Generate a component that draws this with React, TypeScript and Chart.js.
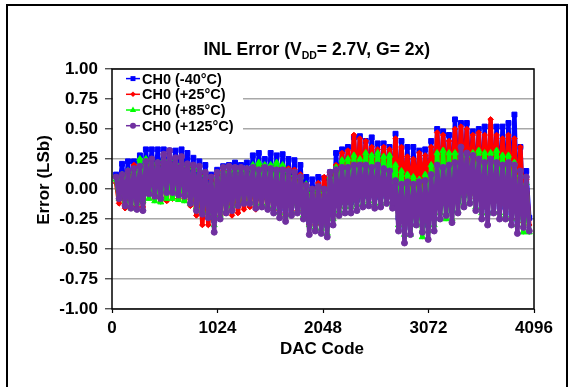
import React, { useEffect, useRef } from 'react';
import { Chart, registerables } from 'chart.js';

Chart.register(...registerables);

const FONT = '"Liberation Sans", Arial, Helvetica, sans-serif';

const chartTitleMain = 'INL Error (V';
const chartTitleSub = 'DD';
const chartTitleRest = '= 2.7V, G= 2x)';
const xAxisTitle = 'DAC Code';
const yAxisTitle = 'Error (LSb)';

const xTickValues = [0, 1024, 2048, 3072, 4096];
const yTickValues = [-1, -0.75, -0.5, -0.25, 0, 0.25, 0.5, 0.75, 1];

const seriesNames = ['CH0 (-40°C)', 'CH0 (+25°C)', 'CH0 (+85°C)', 'CH0 (+125°C)'];
const seriesColors = ['#0000FF', '#FF0000', '#00FF00', '#7030A0'];

// DAC codes at which the high / low excursions were read
const codes = [
  40, 98, 155, 213, 271, 329, 386, 444, 502, 559,
  617, 675, 732, 790, 848, 906, 963, 1021, 1079, 1136,
  1194, 1252, 1309, 1367, 1425, 1483, 1540, 1598, 1656, 1713,
  1771, 1829, 1886, 1944, 2002, 2060, 2117, 2175, 2233, 2290,
  2348, 2406, 2463, 2521, 2579, 2637, 2694, 2752, 2810, 2867,
  2925, 2983, 3040, 3098, 3156, 3214, 3271, 3329, 3387, 3444,
  3502, 3560, 3617, 3675, 3733, 3791, 3848, 3906, 3964, 4021,
];
const lowCodeOffset = 29;

const blueHigh = [
  0.12, 0.21, 0.23, 0.23, 0.28, 0.33, 0.33, 0.33, 0.33, 0.32,
  0.32, 0.33, 0.30, 0.26, 0.23, 0.20, 0.12, 0.16, 0.19, 0.20,
  0.22, 0.20, 0.22, 0.28, 0.30, 0.25, 0.30, 0.28, 0.29, 0.25,
  0.24, 0.20, 0.10, 0.08, 0.10, 0.09, 0.14, 0.30, 0.33, 0.35,
  0.43, 0.44, 0.40, 0.43, 0.38, 0.38, 0.35, 0.46, 0.40, 0.35,
  0.35, 0.32, 0.33, 0.40, 0.50, 0.48, 0.45, 0.58, 0.55, 0.55,
  0.48, 0.50, 0.52, 0.52, 0.52, 0.52, 0.55, 0.62, 0.35, 0.15,
];
const blueLow = [
  0.00, -0.06, -0.08, -0.09, -0.10, 0.04, 0.02, 0.00, 0.05, 0.05,
  0.03, 0.02, -0.04, -0.10, -0.13, -0.16, -0.26, -0.17, -0.12, -0.10,
  -0.06, -0.04, -0.04, -0.08, -0.07, -0.09, -0.12, -0.16, -0.19, -0.14,
  -0.12, -0.17, -0.28, -0.26, -0.28, -0.30, -0.20, -0.13, -0.11, -0.11,
  -0.09, -0.06, -0.05, -0.07, -0.06, -0.04, -0.07, -0.24, -0.32, -0.27,
  -0.20, -0.24, -0.30, -0.24, -0.14, -0.12, -0.18, -0.10, -0.05, -0.02,
  -0.08, -0.15, -0.20, -0.10, -0.15, -0.15, -0.20, -0.26, -0.22, -0.24,
];
const redHigh = [
  0.05, 0.10, 0.12, 0.20, 0.18, 0.20, 0.20, 0.20, 0.22, 0.22,
  0.20, 0.20, 0.18, 0.16, 0.15, 0.12, 0.08, 0.12, 0.15, 0.15,
  0.15, 0.15, 0.16, 0.18, 0.20, 0.18, 0.19, 0.19, 0.18, 0.17,
  0.16, 0.12, 0.04, 0.00, 0.05, 0.10, 0.12, 0.20, 0.30, 0.32,
  0.45, 0.42, 0.40, 0.35, 0.33, 0.35, 0.33, 0.42, 0.35, 0.27,
  0.25, 0.30, 0.28, 0.35, 0.47, 0.45, 0.40, 0.50, 0.52, 0.50,
  0.45, 0.47, 0.45, 0.58, 0.45, 0.42, 0.45, 0.42, 0.35, 0.08,
];
const redLow = [
  -0.12, -0.16, -0.14, -0.15, -0.15, -0.05, -0.08, -0.10, -0.10, -0.08,
  -0.08, -0.09, -0.14, -0.22, -0.30, -0.30, -0.26, -0.22, -0.20, -0.22,
  -0.20, -0.17, -0.15, -0.17, -0.15, -0.16, -0.18, -0.20, -0.22, -0.20,
  -0.18, -0.20, -0.30, -0.30, -0.30, -0.30, -0.22, -0.15, -0.12, -0.10,
  -0.05, -0.05, -0.05, -0.05, -0.05, -0.05, -0.08, -0.15, -0.05, -0.03,
  -0.02, -0.03, -0.03, -0.05, -0.05, -0.05, -0.10, -0.08, -0.05, -0.05,
  -0.08, -0.10, -0.12, -0.08, -0.10, -0.10, -0.15, -0.25, -0.28, -0.30,
];
const greenHigh = [
  0.08, 0.12, 0.15, 0.15, 0.25, 0.25, 0.23, 0.22, 0.25, 0.25,
  0.22, 0.22, 0.20, 0.18, 0.16, 0.12, 0.05, 0.10, 0.15, 0.15,
  0.16, 0.16, 0.17, 0.20, 0.22, 0.20, 0.20, 0.22, 0.20, 0.15,
  0.12, 0.10, 0.04, -0.02, 0.00, -0.02, 0.10, 0.18, 0.24, 0.25,
  0.28, 0.25, 0.30, 0.28, 0.30, 0.27, 0.28, 0.20, 0.15, 0.12,
  0.10, 0.08, 0.12, 0.20, 0.30, 0.32, 0.30, 0.30, 0.30, 0.28,
  0.30, 0.32, 0.30, 0.30, 0.32, 0.28, 0.28, 0.22, 0.12, 0.05,
];
const greenLow = [
  -0.08, -0.10, -0.16, -0.12, -0.10, -0.08, -0.10, -0.11, -0.08, -0.08,
  -0.09, -0.10, -0.12, -0.15, -0.18, -0.20, -0.30, -0.22, -0.18, -0.14,
  -0.12, -0.10, -0.10, -0.12, -0.12, -0.14, -0.16, -0.20, -0.22, -0.20,
  -0.18, -0.22, -0.30, -0.32, -0.33, -0.37, -0.25, -0.18, -0.15, -0.15,
  -0.13, -0.12, -0.10, -0.12, -0.12, -0.10, -0.13, -0.30, -0.38, -0.38,
  -0.30, -0.40, -0.35, -0.30, -0.20, -0.25, -0.25, -0.18, -0.12, -0.10,
  -0.15, -0.20, -0.20, -0.18, -0.20, -0.22, -0.25, -0.30, -0.36, -0.36,
];
const purpleHigh = [
  0.10, 0.12, 0.15, 0.17, 0.19, 0.23, 0.25, 0.22, 0.29, 0.32,
  0.26, 0.27, 0.21, 0.20, 0.19, 0.14, 0.10, 0.14, 0.18, 0.19,
  0.18, 0.18, 0.17, 0.18, 0.16, 0.18, 0.17, 0.16, 0.16, 0.15,
  0.14, 0.10, 0.03, 0.00, 0.02, 0.00, 0.14, 0.16, 0.18, 0.18,
  0.20, 0.20, 0.20, 0.18, 0.20, 0.17, 0.15, 0.07, 0.04, 0.06,
  0.04, 0.06, 0.07, 0.12, 0.20, 0.18, 0.20, 0.22, 0.35, 0.30,
  0.28, 0.25, 0.22, 0.25, 0.22, 0.20, 0.22, 0.20, 0.15, 0.10,
];
const purpleLow = [
  -0.08, -0.14, -0.16, -0.17, -0.18, -0.04, -0.06, -0.08, -0.03, -0.03,
  -0.05, -0.06, -0.12, -0.18, -0.21, -0.24, -0.36, -0.25, -0.20, -0.18,
  -0.14, -0.12, -0.12, -0.16, -0.15, -0.17, -0.20, -0.24, -0.27, -0.22,
  -0.20, -0.25, -0.38, -0.35, -0.37, -0.40, -0.30, -0.22, -0.20, -0.20,
  -0.18, -0.15, -0.14, -0.16, -0.15, -0.12, -0.16, -0.35, -0.45, -0.38,
  -0.30, -0.36, -0.42, -0.35, -0.25, -0.22, -0.28, -0.20, -0.15, -0.12,
  -0.18, -0.25, -0.30, -0.20, -0.25, -0.25, -0.30, -0.37, -0.32, -0.35,
];

const seriesHigh = [blueHigh, redHigh, greenHigh, purpleHigh];
const seriesLow = [blueLow, redLow, greenLow, purpleLow];
const pointStyles = ['rect', 'rectRot', 'triangle', 'circle'];
const pointRadii = [3.5, 2.8, 3.5, 3];

function buildPoints(high: number[], low: number[]) {
  const pts: { x: number; y: number }[] = [];
  codes.forEach((c, i) => {
    pts.push({ x: c, y: high[i] });
    pts.push({ x: c + lowCodeOffset, y: low[i] });
  });
  return pts;
}

function drawMarker(ctx: CanvasRenderingContext2D, style: string, x: number, y: number, r: number) {
  ctx.beginPath();
  if (style === 'rect') {
    const s = r * Math.SQRT1_2;
    ctx.rect(x - s, y - s, 2 * s, 2 * s);
  } else if (style === 'rectRot') {
    ctx.moveTo(x, y - r);
    ctx.lineTo(x + r, y);
    ctx.lineTo(x, y + r);
    ctx.lineTo(x - r, y);
    ctx.closePath();
  } else if (style === 'triangle') {
    ctx.moveTo(x, y - r);
    ctx.lineTo(x + r * 0.9, y + r * 0.6);
    ctx.lineTo(x - r * 0.9, y + r * 0.6);
    ctx.closePath();
  } else {
    ctx.arc(x, y, r, 0, Math.PI * 2);
  }
  ctx.fill();
}

const decorPlugin = {
  id: 'decor',
  beforeDraw(chart: any) {
    const ctx = chart.ctx as CanvasRenderingContext2D;
    ctx.save();
    ctx.fillStyle = '#ffffff';
    ctx.fillRect(0, 0, chart.width, chart.height);
    ctx.strokeStyle = '#000000';
    ctx.lineWidth = 2;
    ctx.strokeRect(7, 5, 560, 420);
    ctx.restore();
  },
  afterDraw(chart: any) {
    const ctx = chart.ctx as CanvasRenderingContext2D;
    const a = chart.chartArea;
    ctx.save();

    // legend
    ctx.fillStyle = '#ffffff';
    ctx.fillRect(a.left + 1, a.top + 1, 130, 64);
    ctx.font = `bold 14.5px ${FONT}`;
    ctx.textAlign = 'left';
    ctx.textBaseline = 'alphabetic';
    seriesNames.forEach((name, i) => {
      const base = 83.6 + i * 15.7;
      const my = base - 5;
      ctx.strokeStyle = seriesColors[i];
      ctx.fillStyle = seriesColors[i];
      ctx.lineWidth = 1.5;
      ctx.beginPath();
      ctx.moveTo(126, my);
      ctx.lineTo(140, my);
      ctx.stroke();
      drawMarker(ctx, pointStyles[i], 133, my, pointRadii[i]);
      ctx.fillStyle = '#000000';
      ctx.fillText(name, 142, base);
    });

    // plot frame
    ctx.strokeStyle = '#000000';
    ctx.lineWidth = 1.5;
    ctx.strokeRect(a.left, a.top, a.right - a.left, a.bottom - a.top);

    // title with subscript
    ctx.fillStyle = '#000000';
    ctx.textAlign = 'left';
    let tx = 203.5;
    const ty = 54.5;
    ctx.font = `bold 17.5px ${FONT}`;
    ctx.fillText(chartTitleMain, tx, ty);
    tx += ctx.measureText(chartTitleMain).width;
    ctx.font = `bold 10.5px ${FONT}`;
    ctx.fillText(chartTitleSub, tx, ty + 4);
    tx += ctx.measureText(chartTitleSub).width;
    ctx.font = `bold 17.5px ${FONT}`;
    ctx.fillText(chartTitleRest, tx, ty);

    // x axis title
    ctx.font = `bold 17px ${FONT}`;
    ctx.textAlign = 'center';
    ctx.fillText(xAxisTitle, 322, 354.3);

    // y axis title
    ctx.translate(49.4, 180);
    ctx.rotate(-Math.PI / 2);
    ctx.fillText(yAxisTitle, 0, 0);

    ctx.restore();
  },
};

export default function App() {
  const canvasRef = useRef<HTMLCanvasElement | null>(null);

  useEffect(() => {
    if (!canvasRef.current) return;
    const datasets = seriesNames.map((name, i) => ({
      label: name,
      data: buildPoints(seriesHigh[i], seriesLow[i]),
      borderColor: seriesColors[i],
      backgroundColor: seriesColors[i],
      pointBackgroundColor: seriesColors[i],
      pointBorderColor: seriesColors[i],
      pointStyle: pointStyles[i],
      pointRadius: pointRadii[i],
      pointBorderWidth: 1,
      borderWidth: 4.5,
      borderJoinStyle: 'round',
      borderCapStyle: 'round',
      tension: 0,
      order: 3 - i,
    }));

    const chart = new Chart(canvasRef.current, {
      type: 'line',
      data: { datasets },
      plugins: [decorPlugin],
      options: {
        animation: false,
        responsive: false,
        maintainAspectRatio: false,
        events: [],
        layout: { padding: { left: 0, right: 39, top: 69, bottom: 0 } },
        plugins: {
          legend: { display: false },
          title: { display: false },
          tooltip: { enabled: false },
        },
        scales: {
          x: {
            type: 'linear',
            min: 0,
            max: 4096,
            afterBuildTicks: (scale: any) => {
              scale.ticks = xTickValues.map((v) => ({ value: v }));
            },
            afterFit: (scale: any) => {
              scale.height = 78;
            },
            ticks: {
              color: '#000000',
              font: { family: FONT, size: 17, weight: 'bold' },
              padding: 5,
              maxRotation: 0,
              autoSkip: false,
              callback: (v: any) => String(v),
            },
            grid: {
              drawOnChartArea: false,
              drawTicks: true,
              tickLength: 4,
              tickColor: '#000000',
              tickWidth: 1.2,
            },
            border: { display: false },
          },
          y: {
            type: 'linear',
            min: -1,
            max: 1,
            afterBuildTicks: (scale: any) => {
              scale.ticks = yTickValues.map((v) => ({ value: v }));
            },
            afterFit: (scale: any) => {
              scale.width = 112;
            },
            ticks: {
              color: '#000000',
              font: { family: FONT, size: 17, weight: 'bold' },
              padding: 7,
              callback: (v: any) => Number(v).toFixed(2),
            },
            grid: {
              color: '#a8a8a8',
              lineWidth: 1.5,
              tickLength: 7,
              tickColor: '#333333',
              tickWidth: 1.2,
            },
            border: { display: false },
          },
        },
      },
    });
    return () => chart.destroy();
  }, []);

  return (
    <div style={{ position: 'fixed', left: 0, top: 0, width: 573, height: 387, background: '#fff' }}>
      <canvas ref={canvasRef} width={573} height={387} style={{ width: 573, height: 387, display: 'block' }} />
    </div>
  );
}
